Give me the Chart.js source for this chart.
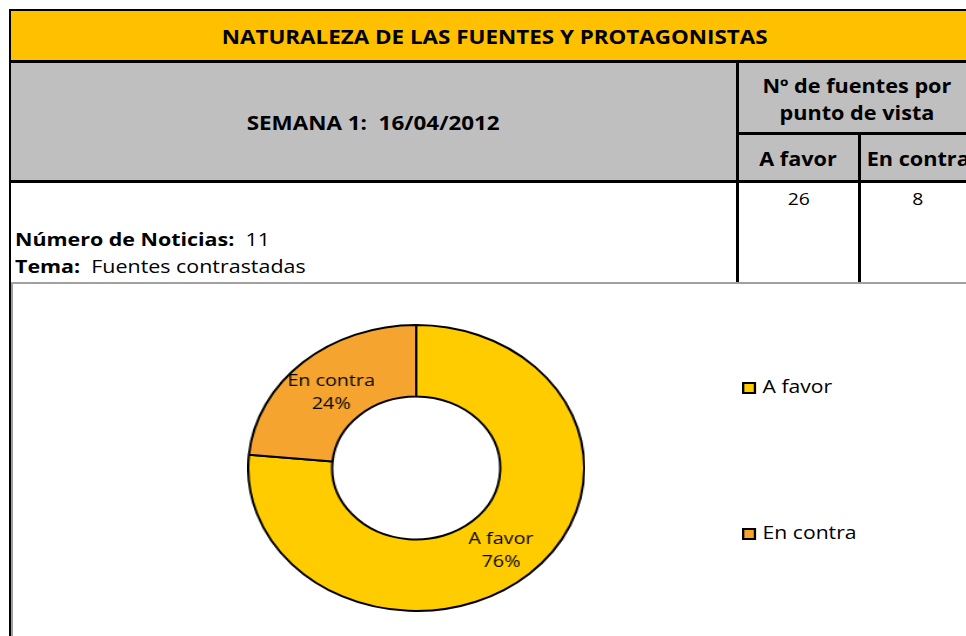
<!DOCTYPE html>
<html>
<head>
<meta charset="utf-8">
<script src="https://cdn.jsdelivr.net/npm/chart.js@4.4.1/dist/chart.umd.min.js"></script>
<style>
  body { margin: 0; width: 966px; height: 636px; overflow: hidden; background: #fff;
         font-family: "Open Sans", sans-serif; color: #000; position: relative; }
  .r { position: absolute; }
  .cell { position: absolute; display: flex; align-items: center; justify-content: center; }
  .cell span, .left span { display: inline-block; white-space: nowrap; transform: scaleX(1.14); }
  .left { position: absolute; white-space: nowrap; }
  .left span { transform-origin: left center; transform: scaleX(1.19); }
  .b { font-weight: bold; }
  #chartWrap { position: absolute; left: 246.8px; top: 323.5px; width: 288px; height: 288px;
               transform: scaleX(1.175); transform-origin: 0 0; }
  #legend { position: absolute; left: 742px; top: 0; transform-origin: 0 0; }
  .item { position: absolute; left: 0; white-space: nowrap; font-size: 18px; line-height: 24px;
          transform: scaleX(1.175); transform-origin: 0 50%; }
  .sw { display: inline-block; width: 11.5px; height: 12px; box-sizing: border-box; border: 2px solid #000;
        vertical-align: -1px; margin-right: 6px; }
</style>
</head>
<body>
<!-- table backgrounds -->
<div class="r" style="left:10px;top:10px;width:980px;height:51px;background:#FFC000"></div>
<div class="r" style="left:10px;top:61px;width:980px;height:120px;background:#BFBFBF"></div>
<!-- table lines -->
<div class="r" style="left:9px;top:9px;width:980px;height:2px;background:#000"></div>
<div class="r" style="left:9px;top:60px;width:980px;height:3px;background:#000"></div>
<div class="r" style="left:9px;top:180px;width:980px;height:3px;background:#000"></div>
<div class="r" style="left:9px;top:9px;width:2px;height:640px;background:#000"></div>
<div class="r" style="left:736px;top:61px;width:3px;height:221px;background:#000"></div>
<div class="r" style="left:737px;top:132px;width:260px;height:3px;background:#000"></div>
<div class="r" style="left:858px;top:133px;width:3px;height:149px;background:#000"></div>
<!-- chart frame -->
<div class="r" style="left:11px;top:282px;width:960px;height:2px;background:#A0A0A0"></div>
<div class="r" style="left:11px;top:282px;width:2px;height:360px;background:#A0A0A0"></div>

<!-- table text -->
<div class="cell b" style="left:10px;top:11px;width:970px;height:50px;font-size:20px"><span style="transform:scaleX(1.12)">NATURALEZA DE LAS FUENTES Y PROTAGONISTAS</span></div>
<div class="cell b" style="left:10px;top:63px;width:727px;height:120px;font-size:19px"><span style="transform:scaleX(1.18)">SEMANA 1:&nbsp; 16/04/2012</span></div>
<div class="cell b" style="left:739px;top:72px;width:236px;height:28px;font-size:19px"><span>Nº de fuentes por</span></div>
<div class="cell b" style="left:739px;top:99px;width:236px;height:28px;font-size:19px"><span>punto de vista</span></div>
<div class="cell b" style="left:739px;top:145px;width:119px;height:28px;font-size:19px"><span>A favor</span></div>
<div class="cell b" style="left:861px;top:145px;width:114px;height:28px;font-size:19px"><span>En contra</span></div>
<div class="cell" style="left:739px;top:184px;width:119px;height:28px;font-size:17px"><span id="v0"></span></div>
<div class="cell" style="left:861px;top:184px;width:114px;height:28px;font-size:17px"><span id="v1"></span></div>
<div class="left" style="left:15px;top:227px;font-size:18px;line-height:24px"><span><b>Número de Noticias:</b>&nbsp; 11</span></div>
<div class="left" style="left:15px;top:254px;font-size:18px;line-height:24px"><span><b>Tema:</b>&nbsp; Fuentes contrastadas</span></div>

<div id="chartWrap"><canvas id="donut" width="288" height="288"></canvas></div>
<div id="legend"></div>

<script>
  const etiquetas = ['A favor', 'En contra'];
  const fuentes = [26, 8];
  const colores = ['#FFCC00', '#F5A52F'];
  const legendTops = [373.5, 520]; // top of each legend row

  document.getElementById('v0').textContent = fuentes[0];
  document.getElementById('v1').textContent = fuentes[1];

  const total = fuentes.reduce((a, b) => a + b, 0);

  // labels in the middle of each ring segment
  const arcLabels = {
    id: 'arcLabels',
    afterDatasetsDraw(chart) {
      const ctx = chart.ctx;
      const meta = chart.getDatasetMeta(0);
      ctx.save();
      ctx.font = '16.8px "Open Sans"';
      ctx.fillStyle = '#000';
      ctx.textAlign = 'center';
      ctx.textBaseline = 'middle';
      meta.data.forEach((arc, i) => {
        const p = arc.tooltipPosition();
        const pct = Math.round(fuentes[i] / total * 100) + '%';
        ctx.fillText(etiquetas[i], p.x, p.y - 8);
        ctx.fillText(pct, p.x, p.y + 15);
      });
      ctx.restore();
    }
  };

  new Chart(document.getElementById('donut').getContext('2d'), {
    type: 'doughnut',
    data: {
      labels: etiquetas,
      datasets: [{
        data: fuentes,
        backgroundColor: colores,
        borderColor: '#000',
        borderWidth: 2
      }]
    },
    options: {
      responsive: false,
      animation: false,
      cutout: '50%',
      layout: { padding: 0 },
      plugins: {
        legend: { display: false },
        tooltip: { enabled: false }
      }
    },
    plugins: [arcLabels]
  });

  // legend built from the same arrays
  const legend = document.getElementById('legend');
  etiquetas.forEach((lab, i) => {
    const row = document.createElement('div');
    row.className = 'item';
    row.style.top = legendTops[i] + 'px';
    row.innerHTML = '<span class="sw" style="background:' + colores[i] + '"></span>' + lab;
    legend.appendChild(row);
  });
</script>
</body>
</html>
